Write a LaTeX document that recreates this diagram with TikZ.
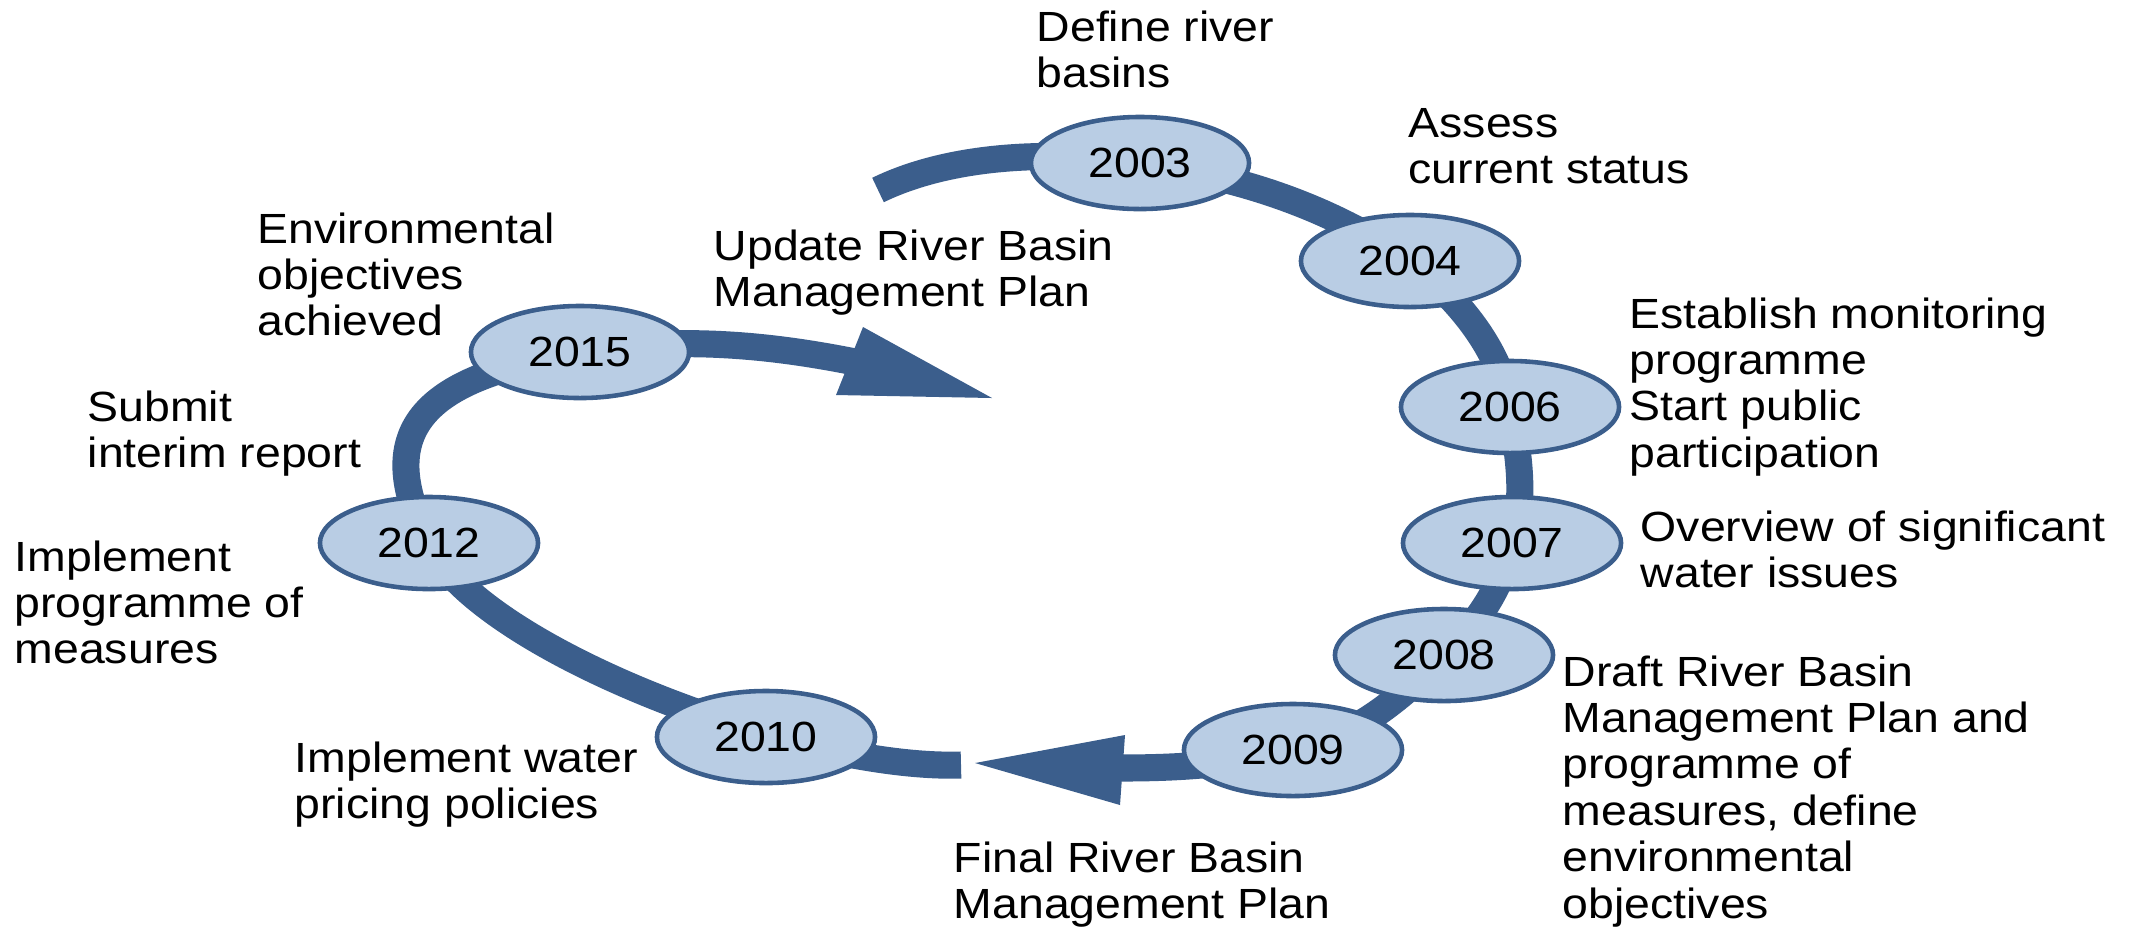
\documentclass[tikz,border=0pt]{standalone}
\usepackage{fontspec}
\setmainfont{Liberation Sans}[FakeStretch=1.1]
\usetikzlibrary{shapes.geometric}
\pgfdeclarelayer{bg}
\pgfsetlayers{bg,main}
\definecolor{bandc}{RGB}{59,94,140}
\definecolor{ellc}{RGB}{185,205,228}
\newcommand{\lbl}[1]{\begin{tabular}[t]{@{}l@{}}#1\end{tabular}}
\begin{document}
\begin{tikzpicture}[x=0.01cm,y=-0.01cm,
  yr/.style={ellipse, draw=bandc, fill=ellc, line width=1.3pt,
    minimum width=2.18cm, minimum height=0.92cm, inner sep=0pt,
    font=\fontsize{12}{13.2}\selectfont},
  lab/.style={anchor=base west, inner sep=0pt, font=\fontsize{12}{13.2}\selectfont},
  band/.style={draw=bandc, line width=7.7pt},
  head/.style={fill=bandc}]
\useasboundingbox (0,0) rectangle (2143,926);

% year ellipses
\node[yr] (y2003) at (1140,163) {2003};
\node[yr] (y2004) at (1410,261) {2004};
\node[yr] (y2006) at (1510,407) {2006};
\node[yr] (y2007) at (1512,543) {2007};
\node[yr] (y2008) at (1444,655) {2008};
\node[yr] (y2009) at (1293,750) {2009};
\node[yr] (y2010) at (766,737) {2010};
\node[yr] (y2012) at (429,543) {2012};
\node[yr] (y2015) at (580,352) {2015};

% free ends of the band
\coordinate (startA) at (878,190);
\coordinate (endA) at (1118,768);
\coordinate (tipL) at (975,763);
\coordinate (cornLa) at (1125,735);
\coordinate (cornLb) at (1120,805);
\coordinate (endB) at (961,765);
\coordinate (baseR) at (855,362);
\coordinate (tipR) at (992,398);
\coordinate (cornRa) at (863,327);
\coordinate (cornRb) at (836,395);

\begin{pgfonlayer}{bg}
\draw[band] (startA) .. controls (950,155) and (1050,150) .. (y2003.center)
  .. controls (1260,180) and (1340,215) .. (y2004.center)
  .. controls (1460,300) and (1500,350) .. (y2006.center)
  .. controls (1520,460) and (1525,500) .. (y2007.center)
  .. controls (1500,590) and (1480,620) .. (y2008.center)
  .. controls (1400,700) and (1350,740) .. (y2009.center)
  .. controls (1230,765) and (1180,768) .. (endA);
\fill[head] (tipL) -- (cornLa) -- (cornLb) -- cycle;

\draw[band] (endB) .. controls (800,770) and (480,650) .. (y2012.center)
  .. controls (365,420) and (440,375) .. (y2015.center)
  .. controls (680,336) and (770,345) .. (baseR);
\fill[head] (tipR) -- (cornRa) -- (cornRb) -- cycle;
\end{pgfonlayer}

% labels
\node[lab] (tdefine) at (1036,41) {\lbl{Define river\\basins}};
\node[lab] (tassess) at (1408,137) {\lbl{Assess\\current status}};
\node[lab] (tupdate) at (713,260) {\lbl{Update River Basin\\Management Plan}};
\node[lab] (tenv) at (257,243) {\lbl{Environmental\\objectives\\achieved}};
\node[lab] (tsubmit) at (87,421) {\lbl{Submit\\interim report}};
\node[lab] (timpl) at (14,571) {\lbl{Implement\\programme of\\measures}};
\node[lab] (tprice) at (294,772) {\lbl{Implement water\\pricing policies}};
\node[lab] (tfinal) at (953,872) {\lbl{Final River Basin\\Management Plan}};
\node[lab] (testab) at (1629,328) {\lbl{Establish monitoring\\programme\\Start public\\participation}};
\node[lab] (tover) at (1640,541) {\lbl{Overview of significant\\water issues}};
\node[lab] (tdraft) at (1562,686) {\lbl{Draft River Basin\\Management Plan and\\programme of\\measures, define\\environmental\\objectives}};
\end{tikzpicture}
\end{document}
